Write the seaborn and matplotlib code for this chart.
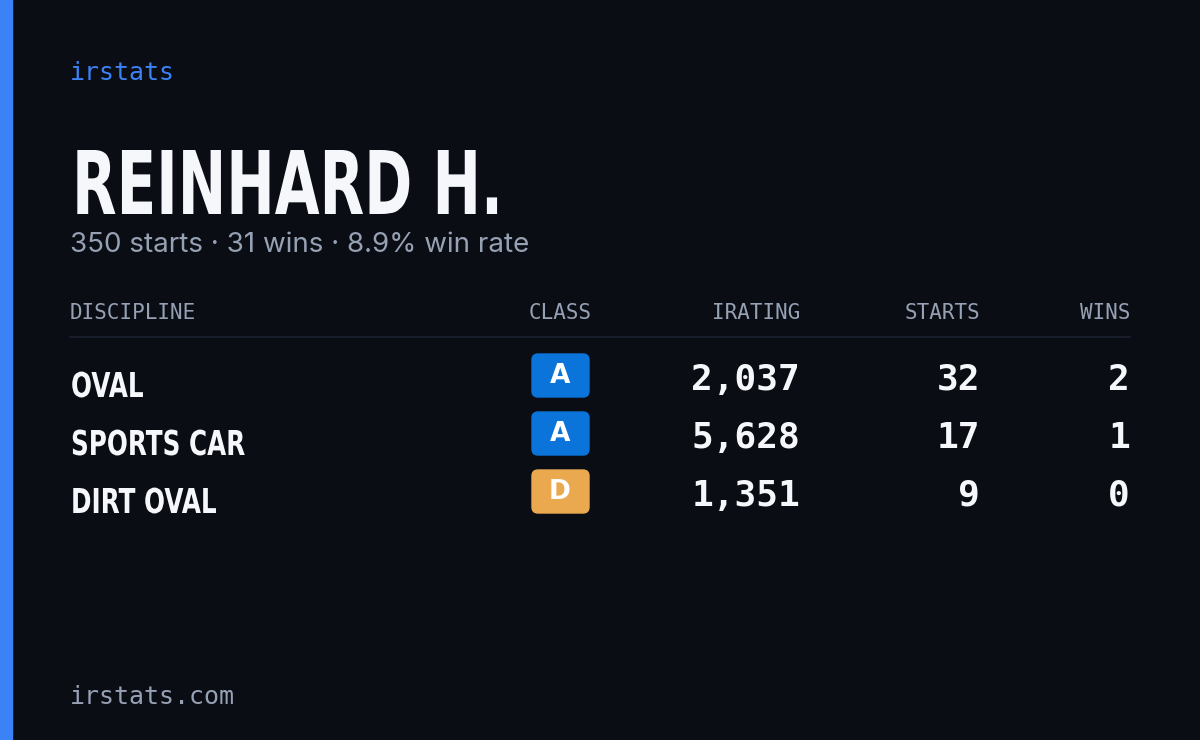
import matplotlib.pyplot as plt
import seaborn as sns
from matplotlib.patches import FancyBboxPatch, Rectangle, PathPatch
from matplotlib.textpath import TextPath
from matplotlib.font_manager import FontProperties
from matplotlib.transforms import Affine2D

sns.set_theme(style="dark")
plt.rcParams["font.family"] = ["DejaVu Sans"]

BG = "#0a0d14"
ACCENT = "#3b82f6"
MUTED = "#97a1b4"
WHITE = "#f5f7fb"

driver = "REINHARD H."
summary = "350 starts · 31 wins · 8.9% win rate"
columns = ["DISCIPLINE", "CLASS", "IRATING", "STARTS", "WINS"]
disciplines = ["OVAL", "SPORTS CAR", "DIRT OVAL"]
classes = ["A", "A", "D"]
iratings = [2037, 5628, 1351]
starts = [32, 17, 9]
wins = [2, 1, 0]
class_colors = {"A": "#0b74da", "D": "#eaa94e"}

BOLD = FontProperties(family="DejaVu Sans", weight="bold")


def condensed_text(ax, x, baseline, s, cap_px, xscale, color):
    """Draw bold text squeezed horizontally (no condensed font installed)."""
    size = cap_px / 0.729
    path = TextPath((0, 0), s, size=size, prop=BOLD)
    tr = Affine2D().scale(xscale, -1).translate(x, baseline)
    ax.add_patch(PathPatch(tr.transform_path(path), color=color, lw=0))


fig = plt.figure(figsize=(12, 7.4), dpi=100, facecolor=BG)
ax = fig.add_axes([0, 0, 1, 1])
ax.set_facecolor(BG)
ax.set_xlim(0, 1200)
ax.set_ylim(740, 0)
ax.axis("off")

ax.add_patch(Rectangle((0, 0), 12, 740, color=ACCENT))

mono = "DejaVu Sans Mono"
ax.text(70, 73, "irstats", color=ACCENT, fontsize=18, family=mono, va="center")
condensed_text(ax, 72, 214, driver, 64, 0.66, WHITE)
ax.text(70, 245, summary, color=MUTED, fontsize=20, family="Inter", va="center")

# header
col_x = [70, 560, 800, 980, 1130]
col_ha = ["left", "center", "right", "right", "right"]
for x, ha, name in zip(col_x, col_ha, columns):
    ax.text(x, 313, name, color=MUTED, fontsize=15, family=mono, ha=ha, va="center")
ax.plot([70, 1130], [337, 337], color="#1c2230", lw=1.2)

row_y0, row_step = 380, 58
for i, (disc, cls, ir, st, w) in enumerate(zip(disciplines, classes, iratings, starts, wins)):
    y = row_y0 + i * row_step
    condensed_text(ax, 71, y + 17, disc, 25, 0.72, WHITE)
    ax.add_patch(FancyBboxPatch((532, y - 26), 57, 43,
                                boxstyle="round,pad=0,rounding_size=6",
                                color=class_colors[cls]))
    ax.text(560, y - 4, cls, color="white", fontsize=19, fontweight="bold",
            ha="center", va="center")
    for x, val in zip(col_x[2:], [f"{ir:,}", str(st), str(w)]):
        ax.text(x, y, val, color=WHITE, fontsize=26, family=mono,
                fontweight="bold", ha="right", va="center")

ax.text(70, 697, "irstats.com", color=MUTED, fontsize=18, family=mono, va="center")

fig.savefig("out.png", dpi=100, facecolor=BG)
